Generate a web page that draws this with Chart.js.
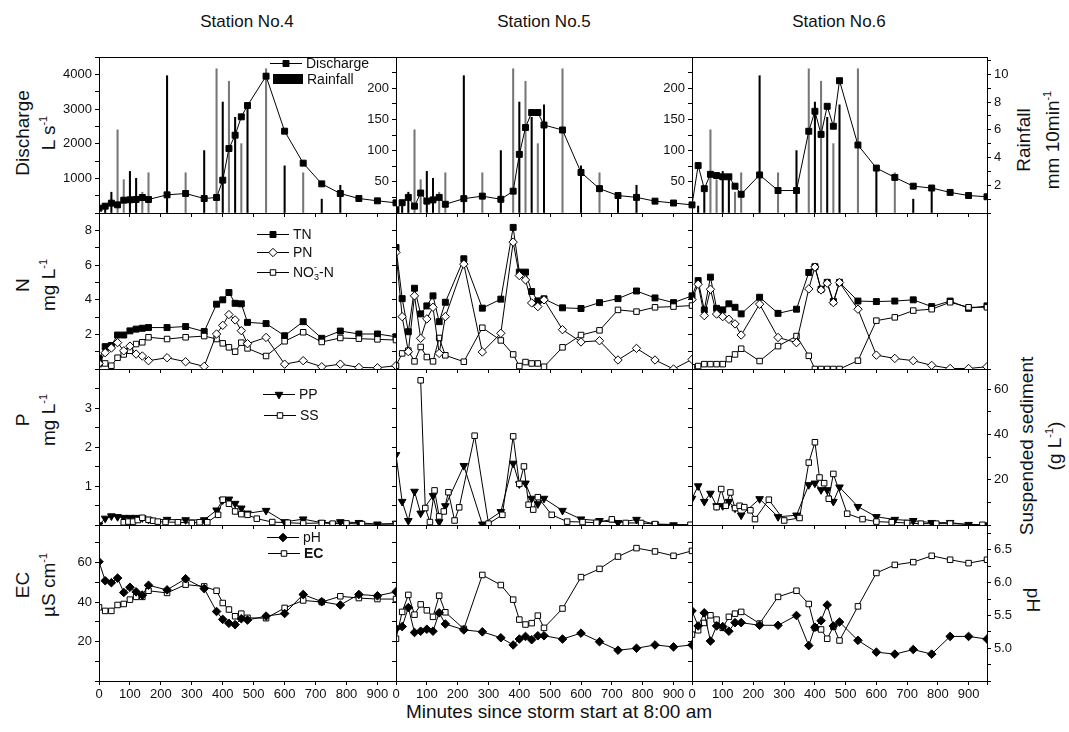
<!DOCTYPE html>
<html>
<head>
<meta charset="utf-8">
<script src="https://cdn.jsdelivr.net/npm/chart.js@4.4.1/dist/chart.umd.min.js"></script>
<style>
  body { margin: 0; background: #fff; width: 1069px; height: 732px; position: relative; overflow: hidden;
         font-family: "Liberation Sans", Arial, sans-serif; color: #111; }
  canvas { position: absolute; }
  .st { position: absolute; top: 12px; font-size: 17px; line-height: 20px; transform: translateX(-50%); white-space: nowrap; }
  .yt { position: absolute; font-size: 19px; line-height: 26px; text-align: center; white-space: nowrap;
        transform: translate(-50%, -50%) rotate(-90deg); }
  .yt.cw { transform: translate(-50%, -50%) rotate(90deg); }
  .xt { position: absolute; font-size: 19px; line-height: 22px; transform: translateX(-50%); white-space: nowrap; }
  sup { font-size: 11px; line-height: 0; vertical-align: 8px; }
</style>
</head>
<body>
<div class="st" style="left:247px">Station No.4</div>
<div class="st" style="left:544px">Station No.5</div>
<div class="st" style="left:839px">Station No.6</div>

<div class="yt" style="left:36px;top:133px">Discharge<br>L s<sup>-1</sup></div>
<div class="yt" style="left:36px;top:285px">N<br>mg L<sup>-1</sup></div>
<div class="yt" style="left:36px;top:420px">P<br>mg L<sup>-1</sup></div>
<div class="yt" style="left:36px;top:585px">EC<br>µS cm<sup>-1</sup></div>

<div class="yt" style="left:1038px;top:140px;line-height:29px">Rainfall<br>mm 10min<sup>-1</sup></div>
<div class="yt" style="left:1041px;top:446px;line-height:28px">Suspended sediment<br>(g L<sup>-1</sup>)</div>
<div class="yt cw" style="left:1033px;top:600px">pH</div>

<div class="xt" style="left:559px;top:701px">Minutes since storm start at 8:00 am</div>

<script>
// sampling times (minutes since storm start)
const minutes = [0, 20, 40, 60, 80, 100, 120, 140, 160, 220, 280, 340, 380, 400, 420, 440, 460, 480, 540, 600, 660, 720, 780, 840, 900, 960];

// rainfall (mm 10min-1), same gauge for all stations
const rainTime = [20, 40, 60, 80, 100, 120, 140, 160, 220, 280, 340, 380, 400, 420, 440, 460, 480, 540, 600, 660, 720, 780];
const rainfall = [0.5, 1.5, 6.0, 2.4, 3.0, 2.5, 1.5, 2.9, 9.9, 2.9, 4.5, 10.4, 8.0, 9.5, 6.9, 5.0, 7.8, 10.4, 3.4, 2.9, 1.0, 2.0];
const rainShade = ['#000', '#000', '#777', '#777', '#000', '#000', '#777', '#777', '#000', '#777', '#000', '#777', '#000', '#777', '#000', '#777', '#000', '#777', '#000', '#777', '#000', '#000'];

// discharge (L s-1)
const discharge4 = [140, 197, 284, 235, 370, 380, 390, 447, 390, 524, 562, 418, 447, 947, 1860, 2245, 2774, 3100, 3947, 2360, 1438, 841, 562, 418, 351, 293];
const discharge5 = [5, 16.5, 25, 11, 32, 19, 21, 25, 14, 23, 27, 22, 35, 94, 137, 161, 161, 141, 133, 65, 39, 28, 25, 19, 16, 13];
const discharge6 = [13, 76, 39, 62, 60, 58, 58, 43, 30, 61, 36, 36, 131, 163, 126, 171, 139, 212, 109, 72, 57, 43, 40, 33, 28, 26];

// nitrogen (mg L-1)
const tn4 = [0.61, 1.29, 1.36, 1.96, 1.96, 2.2, 2.3, 2.35, 2.39, 2.39, 2.45, 2.16, 3.74, 3.99, 4.41, 3.79, 3.76, 2.69, 2.62, 1.92, 2.73, 1.77, 2.19, 2.02, 2.02, 1.86];
const pn4 = [0.32, 0.94, 1.21, 1.52, 1.05, 1.32, 0.86, 0.75, 0.48, 0.65, 0.42, 0.15, 2.02, 2.52, 3.14, 2.83, 2.21, 1.46, 1.82, 0.28, 0.48, 0.13, 0.28, 0.09, 0.07, 0.19];
const no3n4 = [0.28, 0.32, 0.19, 0.65, 0.84, 1.05, 1.44, 1.54, 1.83, 1.73, 1.83, 1.9, 1.73, 1.48, 1.25, 1.0, 1.52, 1.19, 0.75, 1.6, 2.12, 1.56, 1.79, 1.75, 1.71, 1.67];
const tn5 = [7.01, 4.06, 2.15, 4.66, 3.18, 3.64, 4.22, 2.73, 3.85, 6.36, 3.51, 4.03, 8.17, 5.59, 5.59, 4.47, 3.93, 4.05, 3.53, 3.49, 3.83, 4.06, 4.5, 4.1, 3.83, 4.22];
const pn5 = [6.73, 3.02, 1.0, 4.22, 1.77, 2.89, 3.56, 0.9, 3.02, 6.05, 0.98, 2.06, 7.32, 5.39, 5.14, 3.81, 3.6, 3.99, 2.27, 1.56, 1.63, 0.52, 1.19, 0.52, 0.0, 0.55];
const no3n5 = [0.19, 0.9, 1.06, 0.44, 1.27, 0.69, 0.44, 1.79, 0.79, 0.42, 2.38, 1.65, 0.84, 0.17, 0.4, 0.32, 0.32, 0.13, 1.25, 1.96, 2.23, 3.41, 3.31, 3.56, 3.6, 3.66];
const tn6 = [4.22, 5.1, 3.41, 5.3, 3.5, 3.41, 3.76, 3.56, 3.18, 4.14, 3.21, 3.45, 5.57, 5.9, 4.6, 5.0, 3.9, 5.0, 3.92, 3.89, 3.92, 3.99, 3.6, 3.92, 3.5, 3.64];
const pn6 = [4.0, 4.89, 3.08, 4.6, 3.17, 3.02, 2.87, 2.6, 1.96, 3.74, 1.82, 1.52, 4.62, 5.88, 4.56, 4.95, 3.83, 4.99, 3.45, 0.8, 0.61, 0.48, 0.21, 0.03, 0.03, 0.13];
const no3n6 = [0.1, 0.17, 0.28, 0.28, 0.28, 0.28, 0.57, 0.84, 1.17, 0.46, 1.32, 1.9, 0.76, 0, 0, 0, 0, 0, 0.48, 2.79, 2.98, 3.37, 3.45, 3.85, 3.56, 3.56];

// particulate P (mg L-1) and suspended sediment (g L-1)
const pp4 = [0, 0.17, 0.23, 0.21, 0.19, 0.19, 0.19, 0.18, 0.14, 0.14, 0.13, 0.13, 0.38, 0.64, 0.66, 0.55, 0.43, 0.3, 0.37, 0.08, 0.15, 0.06, 0.08, 0.06, 0.02, 0.04];
const ssTime4 = [80, 95, 110, 125, 140, 160, 175, 190, 215, 255, 300, 325, 350, 385, 400, 420, 440, 460, 480, 510, 560, 610, 660, 720, 755, 800, 850, 960];
const ss4 = [1.2, 1.5, 1.5, 2.2, 3.2, 2.3, 1.9, 1.5, 1.3, 1.2, 0.9, 1.2, 1.2, 4.5, 11.2, 9.4, 6.0, 4.8, 4.5, 2.8, 1.3, 1.0, 0.7, 0.9, 0.6, 0.7, 0.4, 0.4];
const ppTime5 = [0, 20, 40, 60, 80, 120, 140, 160, 220, 280, 340, 380, 400, 420, 440, 460, 480, 540, 600, 660, 720, 780, 840, 900, 960];
const pp5 = [1.80, 0.60, 0.11, 0.86, 0.30, 0.75, 0.08, 0.49, 1.52, 0.02, 0.34, 1.58, 1.05, 1.07, 0.68, 0.54, 0.68, 0.37, 0.15, 0.11, 0.06, 0.14, 0.02, 0, 0];
const ssTime5 = [80, 95, 110, 125, 140, 155, 170, 190, 205, 255, 300, 345, 380, 400, 415, 430, 445, 460, 505, 555, 605, 650, 700, 745, 795, 840, 955];
const ss5 = [64, 7.5, 1.3, 15.3, 3.8, 6.0, 14.5, 2.0, 7.8, 39.5, 0.6, 4.5, 39.2, 18.2, 25.9, 9.0, 6.8, 12.3, 4.5, 1.5, 1.3, 1.0, 2.5, 0.9, 0.9, 0.4, 0.1];
const pp6 = [0.68, 1.0, 0.6, 0.81, 0.49, 0.49, 0.6, 0.43, 0.25, 0.67, 0.21, 0.25, 1.03, 1.07, 0.9, 0.9, 0.6, 0.97, 0.47, 0.21, 0.14, 0.11, 0.06, 0.06, 0.01, 0];
const ssTime6 = [80, 95, 110, 125, 140, 155, 170, 190, 205, 250, 300, 350, 380, 400, 415, 430, 445, 460, 505, 555, 600, 650, 700, 745, 795, 840, 945];
const ss6 = [7.9, 15.9, 8.5, 14.4, 7.5, 8.5, 7.9, 6.5, 2.6, 11.2, 2.0, 3.1, 27.6, 36.6, 21.0, 18.5, 11.6, 22.6, 5.0, 2.6, 1.5, 1.2, 0.9, 0.6, 0.6, 0.6, 0.1];

// EC (uS cm-1) and pH
const ec4 = [37.3, 35.5, 35.5, 38.5, 39, 41.2, 42.6, 42.6, 45.7, 44.6, 48.8, 47.9, 45.7, 39.5, 36.2, 32.8, 34.1, 32, 31.8, 37, 40.8, 40, 42.9, 42, 41.5, 41.5];
const ph4 = [6.32, 6.03, 6.0, 6.07, 5.85, 5.93, 5.86, 5.81, 5.96, 5.89, 6.06, 5.91, 5.56, 5.44, 5.38, 5.36, 5.45, 5.43, 5.49, 5.53, 5.82, 5.71, 5.66, 5.82, 5.8, 5.86];
const ec5 = [21.4, 35, 43.6, 33.6, 38.8, 35.8, 32.5, 43.2, 34.8, 26.4, 53.7, 48.6, 41.2, 31.1, 28.6, 29.3, 33.1, 26.9, 36.7, 52.6, 56.8, 63, 67.3, 65.6, 63.4, 65.9];
const ph5 = [5.30, 5.33, 5.62, 5.24, 5.26, 5.29, 5.26, 5.54, 5.37, 5.28, 5.25, 5.16, 5.05, 5.14, 5.18, 5.13, 5.19, 5.19, 5.14, 5.23, 5.10, 4.97, 5.0, 5.05, 5.02, 5.05];
const ec6 = [23.5, 25.7, 29.4, 33.3, 31.1, 26.9, 32.5, 34.1, 35, 29.1, 42.6, 45.7, 39, 26.9, 26.1, 21.4, 27.5, 20.5, 37.8, 54.7, 58.8, 60.2, 63.4, 61.4, 59.7, 61.4];
const ph6 = [5.57, 5.34, 5.54, 5.11, 5.34, 5.33, 5.26, 5.39, 5.39, 5.35, 5.35, 5.5, 5.04, 5.32, 5.42, 5.66, 5.34, 5.40, 5.12, 4.94, 4.91, 4.98, 4.91, 5.18, 5.18, 5.14];

Chart.defaults.font.family = '"Liberation Sans", Arial, sans-serif';
Chart.defaults.color = '#111';

// panel grid in page pixels
const COLS = [99, 396, 692, 987];
const ROWS = [57, 213, 369, 525, 681];
const ML = 50, MR = 50, MT = 12, MB = 26;

const FILL_SQ = { pointStyle: 'rect', pointRadius: 4.2, pointBackgroundColor: '#000' };
const OPEN_SQ = { pointStyle: 'rect', pointRadius: 3.9, pointBackgroundColor: '#fff' };
const OPEN_DIA = { pointStyle: 'rectRot', pointRadius: 4.2, pointBackgroundColor: '#fff' };
const FILL_DIA = { pointStyle: 'rectRot', pointRadius: 4.3, pointBackgroundColor: '#000' };
const TRI_DN = { pointStyle: 'triangle', pointRotation: 180, pointRadius: 4.4, pointBackgroundColor: '#000' };

function xy(xs, ys) {
  return xs.map((x, i) => ({ x: x, y: ys[i] }));
}

function line(xs, ys, marker, axis) {
  return Object.assign({
    type: 'line', data: xy(xs, ys), yAxisID: axis || 'y',
    borderColor: '#000', borderWidth: 1, tension: 0, fill: false,
    pointBorderColor: '#000', pointBorderWidth: 1
  }, marker);
}

function rainBars() {
  return {
    type: 'bar', data: xy(rainTime, rainfall), yAxisID: 'y1',
    backgroundColor: rainShade, borderWidth: 0, barThickness: 1.4
  };
}

function xAxis(showLabels) {
  return {
    type: 'linear', min: 0, max: 960, bounds: 'data', offset: false,
    ticks: { display: showLabels, stepSize: 100, includeBounds: false, autoSkip: false, maxRotation: 0, minRotation: 0,
             padding: 2, font: { size: 13 }, callback: (v) => (v % 100 === 0 ? String(v) : '') },
    grid: { offset: false, drawOnChartArea: false, drawTicks: true, tickLength: 4, color: '#000', lineWidth: 1 },
    border: { display: false },
    afterFit: (s) => { s.height = MB; }
  };
}

function yAxis(a, side, width) {
  return {
    type: 'linear', position: side, min: a.min, max: a.max, bounds: 'data',
    ticks: {
      display: !!a.labels, stepSize: a.step, includeBounds: false, autoSkip: false, padding: 3, font: { size: 13 },
      callback: (v) => {
        const k = v / a.every;
        const onLabel = Math.abs(k - Math.round(k)) < 1e-6 && v > a.min + 1e-9 && v < a.max - 1e-9;
        return onLabel ? (a.dec ? v.toFixed(a.dec) : String(v)) : '';
      }
    },
    grid: { drawOnChartArea: false, drawTicks: a.marks !== false, tickLength: 4, color: '#000', lineWidth: 1 },
    border: { display: false },
    afterFit: (s) => { s.width = width; }
  };
}

// box round the plot area
const frame = {
  id: 'frame',
  afterDraw(chart) {
    const { ctx, chartArea: a } = chart;
    ctx.save();
    ctx.strokeStyle = '#000';
    ctx.lineWidth = 1;
    ctx.strokeRect(Math.round(a.left) + 0.5, Math.round(a.top) + 0.5, Math.round(a.right - a.left), Math.round(a.bottom - a.top));
    ctx.restore();
  }
};

function drawRich(ctx, segs, x, y, size, bold) {
  let cx = x;
  for (const s of segs) {
    const fs = s.sub || s.sup ? Math.round(size * 0.62) : size;
    ctx.font = (bold ? 'bold ' : '') + fs + 'px "Liberation Sans", Arial, sans-serif';
    const dy = s.sub ? size * 0.32 : s.sup ? -size * 0.38 : 0;
    ctx.fillText(s.t, cx, y + dy);
    if (!s.keep) cx += ctx.measureText(s.t).width;
  }
}

// small legends inside the left panels
const key = {
  id: 'key',
  afterDraw(chart, args, opts) {
    if (!opts.items || !opts.items.length) return;
    const ctx = chart.ctx;
    ctx.save();
    for (const it of opts.items) {
      const x = it.x - opts.ox, y = it.y - opts.oy;
      ctx.strokeStyle = '#000';
      ctx.fillStyle = '#000';
      ctx.lineWidth = 1;
      if (it.box) {
        ctx.fillRect(x, y - 5, 30, 10);
      } else {
        ctx.beginPath();
        ctx.moveTo(x, y + 0.5);
        ctx.lineTo(x + 32, y + 0.5);
        ctx.stroke();
        ctx.fillStyle = it.m.pointBackgroundColor;
        Chart.helpers.drawPoint(ctx, { pointStyle: it.m.pointStyle, radius: it.m.pointRadius,
          rotation: it.m.pointRotation || 0, borderWidth: 1 }, x + 16, y + 0.5);
      }
      ctx.fillStyle = '#111';
      ctx.textBaseline = 'middle';
      drawRich(ctx, it.text, x + (it.box ? 34 : 36), y + 1, 14, it.bold);
    }
    ctx.restore();
  }
};

function panel(col, row, datasets, yOpt, y1Opt, items) {
  const left = COLS[col] - ML, top = ROWS[row] - MT;
  const w = COLS[col + 1] - COLS[col] + ML + MR;
  const h = ROWS[row + 1] - ROWS[row] + MT + MB;
  const cv = document.createElement('canvas');
  cv.width = w;
  cv.height = h;
  cv.style.left = left + 'px';
  cv.style.top = top + 'px';
  cv.style.width = w + 'px';
  cv.style.height = h + 'px';
  document.body.appendChild(cv);
  return new Chart(cv, {
    type: 'line',
    data: { datasets: datasets },
    options: {
      responsive: false, animation: false, devicePixelRatio: 1, events: [],
      layout: { padding: { top: MT, left: 0, right: 0, bottom: 0 } },
      scales: { x: xAxis(row === 3), y: yAxis(yOpt, 'left', ML), y1: yAxis(y1Opt, 'right', MR) },
      plugins: { legend: { display: false }, tooltip: { enabled: false },
                 key: { items: items || [], ox: left, oy: top } }
    },
    plugins: [frame, key]
  });
}

// axis settings
const qBig = { min: 0, max: 4500, step: 500, every: 1000, labels: true };
const qSmall = { min: 0, max: 250, step: 25, every: 50, labels: true };
const rainHidden = { min: 0, max: 11.25, step: 1, every: 2, labels: false, marks: false };
const rainShown = { min: 0, max: 11.25, step: 1, every: 2, labels: true };
const nAxis = { min: 0, max: 9, step: 1, every: 2, labels: true };
const nAxisBare = { min: 0, max: 9, step: 1, every: 2, labels: false };
const none = { min: 0, max: 1, step: 1, every: 1, labels: false, marks: false };
const pAxis = { min: 0, max: 4, step: 0.5, every: 1, labels: true };
const pAxisBare = { min: 0, max: 4, step: 0.5, every: 1, labels: false };
const ssHidden = { min: 0, max: 69, step: 10, every: 20, labels: false, marks: false };
const ssShown = { min: 0, max: 69, step: 10, every: 20, labels: true };
const ecAxis = { min: 0, max: 79, step: 10, every: 20, labels: true };
const ecAxisBare = { min: 0, max: 79, step: 10, every: 20, labels: false };
const phHidden = { min: 4.5, max: 6.88, step: 0.25, every: 0.5, labels: false, marks: false, dec: 1 };
const phShown = { min: 4.5, max: 6.88, step: 0.25, every: 0.5, labels: true, dec: 1 };

// row 1: discharge and rainfall
panel(0, 0, [line(minutes, discharge4, FILL_SQ), rainBars()], qBig, rainHidden, [
  { x: 270, y: 63, m: FILL_SQ, text: [{ t: 'Discharge' }] },
  { x: 273, y: 79, box: true, text: [{ t: 'Rainfall' }] }
]);
panel(1, 0, [line(minutes, discharge5, FILL_SQ), rainBars()], qSmall, rainHidden);
panel(2, 0, [line(minutes, discharge6, FILL_SQ), rainBars()], qSmall, rainShown);

// row 2: nitrogen
panel(0, 1, [line(minutes, pn4, OPEN_DIA), line(minutes, no3n4, OPEN_SQ), line(minutes, tn4, FILL_SQ)], nAxis, none, [
  { x: 257, y: 234, m: FILL_SQ, text: [{ t: 'TN' }] },
  { x: 257, y: 252, m: OPEN_DIA, text: [{ t: 'PN' }] },
  { x: 257, y: 272, m: OPEN_SQ, text: [{ t: 'NO' }, { t: '-', sup: true, keep: true }, { t: '3', sub: true }, { t: '-N' }] }
]);
panel(1, 1, [line(minutes, pn5, OPEN_DIA), line(minutes, no3n5, OPEN_SQ), line(minutes, tn5, FILL_SQ)], nAxisBare, none);
panel(2, 1, [line(minutes, pn6, OPEN_DIA), line(minutes, no3n6, OPEN_SQ), line(minutes, tn6, FILL_SQ)], nAxisBare, none);

// row 3: particulate P and suspended sediment
panel(0, 2, [line(ssTime4, ss4, OPEN_SQ, 'y1'), line(minutes, pp4, TRI_DN)], pAxis, ssHidden, [
  { x: 263, y: 394, m: TRI_DN, text: [{ t: 'PP' }] },
  { x: 264, y: 415, m: OPEN_SQ, text: [{ t: 'SS' }] }
]);
panel(1, 2, [line(ssTime5, ss5, OPEN_SQ, 'y1'), line(ppTime5, pp5, TRI_DN)], pAxisBare, ssHidden);
panel(2, 2, [line(ssTime6, ss6, OPEN_SQ, 'y1'), line(minutes, pp6, TRI_DN)], pAxisBare, ssShown);

// row 4: EC and pH
panel(0, 3, [line(minutes, ph4, FILL_DIA, 'y1'), line(minutes, ec4, OPEN_SQ)], ecAxis, phHidden, [
  { x: 267, y: 537, m: FILL_DIA, text: [{ t: 'pH' }] },
  { x: 268, y: 553, m: OPEN_SQ, text: [{ t: 'EC' }], bold: true }
]);
panel(1, 3, [line(minutes, ph5, FILL_DIA, 'y1'), line(minutes, ec5, OPEN_SQ)], ecAxisBare, phHidden);
panel(2, 3, [line(minutes, ph6, FILL_DIA, 'y1'), line(minutes, ec6, OPEN_SQ)], ecAxisBare, phShown);
</script>
</body>
</html>
